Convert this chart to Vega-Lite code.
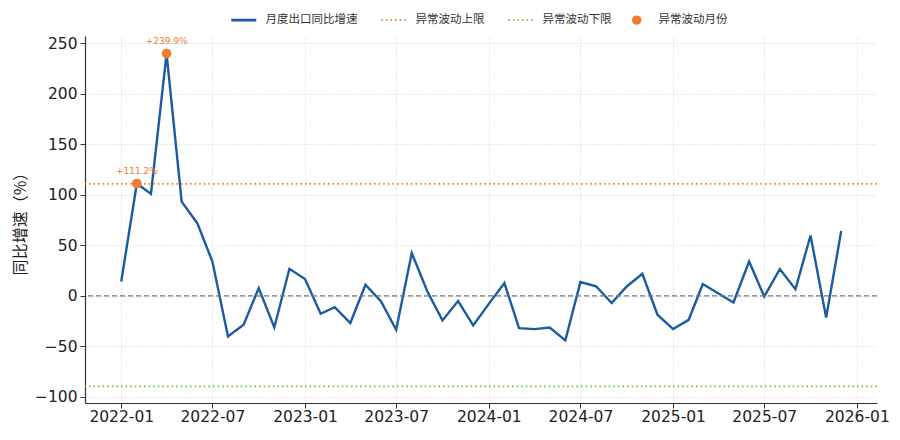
{
  "$schema": "https://vega.github.io/schema/vega-lite/v6.json",
  "width": 792,
  "height": 367,
  "autosize": {"type": "none"},
  "padding": {"left": 85, "top": 36, "right": 23, "bottom": 37},
  "background": "white",
  "config": {
    "font": "Noto Sans CJK SC",
    "view": {"stroke": null},
    "legend": {"title": null},
    "axis": {
      "labelFont": "DejaVu Sans",
      "titleFont": "Noto Sans CJK SC",
      "labelFontSize": 15.5,
      "labelColor": "#222222",
      "domainColor": "#333333",
      "domainWidth": 1.2,
      "tickColor": "#333333",
      "tickSize": 5,
      "tickWidth": 1,
      "gridColor": "#bbbbbb",
      "gridDash": [1, 2],
      "gridWidth": 0.8,
      "gridOpacity": 0.8
    }
  },
  "datasets": {
    "exports": [
      {"month": "2022-01-01", "value": 14.2},
      {"month": "2022-02-01", "value": 111.2},
      {"month": "2022-03-01", "value": 100.9},
      {"month": "2022-04-01", "value": 239.9},
      {"month": "2022-05-01", "value": 93.3},
      {"month": "2022-06-01", "value": 71.9},
      {"month": "2022-07-01", "value": 33.9},
      {"month": "2022-08-01", "value": -40.3},
      {"month": "2022-09-01", "value": -28.7},
      {"month": "2022-10-01", "value": 7.6},
      {"month": "2022-11-01", "value": -31.4},
      {"month": "2022-12-01", "value": 26.7},
      {"month": "2023-01-01", "value": 16.5},
      {"month": "2023-02-01", "value": -17.8},
      {"month": "2023-03-01", "value": -11.2},
      {"month": "2023-04-01", "value": -27.0},
      {"month": "2023-05-01", "value": 10.9},
      {"month": "2023-06-01", "value": -5.6},
      {"month": "2023-07-01", "value": -33.6},
      {"month": "2023-08-01", "value": 42.3},
      {"month": "2023-09-01", "value": 4.3},
      {"month": "2023-10-01", "value": -24.4},
      {"month": "2023-11-01", "value": -5.2},
      {"month": "2023-12-01", "value": -29.4},
      {"month": "2024-01-01", "value": -8.0},
      {"month": "2024-02-01", "value": 12.6},
      {"month": "2024-03-01", "value": -32.0},
      {"month": "2024-04-01", "value": -33.0},
      {"month": "2024-05-01", "value": -31.4},
      {"month": "2024-06-01", "value": -44.2},
      {"month": "2024-07-01", "value": 13.6},
      {"month": "2024-08-01", "value": 9.4},
      {"month": "2024-09-01", "value": -7.2},
      {"month": "2024-10-01", "value": 9.2},
      {"month": "2024-11-01", "value": 21.8},
      {"month": "2024-12-01", "value": -18.8},
      {"month": "2025-01-01", "value": -33.0},
      {"month": "2025-02-01", "value": -23.8},
      {"month": "2025-03-01", "value": 11.6},
      {"month": "2025-04-01", "value": 2.3},
      {"month": "2025-05-01", "value": -6.6},
      {"month": "2025-06-01", "value": 33.9},
      {"month": "2025-07-01", "value": -0.7},
      {"month": "2025-08-01", "value": 26.4},
      {"month": "2025-09-01", "value": 6.6},
      {"month": "2025-10-01", "value": 59.7},
      {"month": "2025-11-01", "value": -21.5},
      {"month": "2025-12-01", "value": 64.3}
    ],
    "limits": [
      {"name": "异常波动上限", "value": 110.9},
      {"name": "异常波动下限", "value": -89.8}
    ],
    "zero": [{"value": 0}]
  },
  "layer": [
    {
      "data": {"name": "exports"},
      "mark": {"type": "line", "strokeWidth": 2.4, "strokeJoin": "miter"},
      "encoding": {
        "x": {
          "field": "month",
          "type": "temporal",
          "title": null,
          "scale": {"domain": ["2021-10-21", "2026-02-10"]},
          "axis": {
            "format": "%Y-%m",
            "tickCount": {"interval": "month", "step": 6},
            "labelPadding": 1,
            "grid": true
          }
        },
        "y": {
          "field": "value",
          "type": "quantitative",
          "title": "同比增速（%）",
          "scale": {"domain": [-106.2, 257.3], "nice": false, "zero": false},
          "axis": {
            "values": [-100, -50, 0, 50, 100, 150, 200, 250],
            "titleFontSize": 16,
            "titleFontWeight": "normal",
            "titleColor": "#222222",
            "titlePadding": 6,
            "labelPadding": 3,
            "grid": true
          }
        },
        "color": {
          "datum": "月度出口同比增速",
          "type": "nominal",
          "scale": {
            "domain": ["月度出口同比增速", "异常波动上限", "异常波动下限", "异常波动月份"],
            "range": ["#1a5c9f", "#ed7d31", "#70bf50", "#ed7d31"]
          },
          "legend": {
            "title": null,
            "orient": "none",
            "direction": "horizontal",
            "legendX": 153,
            "legendY": -22,
            "padding": 0,
            "labelFont": "Noto Sans CJK SC",
            "labelFontSize": 11.5,
            "labelColor": "#333333",
            "labelOffset": 16,
            "columnPadding": 19,
            "symbolSize": 625,
            "symbolType": "stroke",
            "encode": {
              "symbols": {
                "update": {
                  "shape": {"signal": "datum.value === '异常波动月份' ? 'circle' : 'stroke'"},
                  "size": {"signal": "datum.value === '异常波动月份' ? 90 : 625"},
                  "fill": {"signal": "datum.value === '异常波动月份' ? '#ed7d31' : 'transparent'"},
                  "strokeWidth": {"signal": "datum.value === '月度出口同比增速' ? 2.8 : (datum.value === '异常波动月份' ? 0 : 1.8)"},
                  "strokeDash": {"signal": "(datum.value === '异常波动上限' || datum.value === '异常波动下限') ? [1.6, 3] : [1, 0]"}
                }
              }
            }
          }
        }
      }
    },
    {
      "data": {"name": "zero"},
      "mark": {"type": "rule", "color": "#777777", "strokeWidth": 1.2, "strokeDash": [5, 3]},
      "encoding": {"y": {"field": "value", "type": "quantitative"}}
    },
    {
      "data": {"name": "limits"},
      "mark": {"type": "rule", "strokeWidth": 1.8, "strokeDash": [1.6, 3]},
      "encoding": {
        "y": {"field": "value", "type": "quantitative"},
        "color": {"field": "name", "type": "nominal", "legend": {"title": null}}
      }
    },
    {
      "data": {"name": "exports"},
      "transform": [{"filter": "datum.value > 110.9"}],
      "mark": {"type": "point", "filled": true, "size": 95, "opacity": 1},
      "encoding": {
        "x": {"field": "month", "type": "temporal"},
        "y": {"field": "value", "type": "quantitative"},
        "color": {"datum": "异常波动月份", "type": "nominal"}
      }
    },
    {
      "data": {"name": "exports"},
      "transform": [
        {"filter": "datum.value > 110.9"},
        {"calculate": "'+' + format(datum.value, '.1f') + '%'", "as": "label"}
      ],
      "mark": {"type": "text", "dy": -13, "fontSize": 9, "color": "#ed7d31", "font": "DejaVu Sans"},
      "encoding": {
        "x": {"field": "month", "type": "temporal"},
        "y": {"field": "value", "type": "quantitative"},
        "text": {"field": "label"}
      }
    }
  ]
}
